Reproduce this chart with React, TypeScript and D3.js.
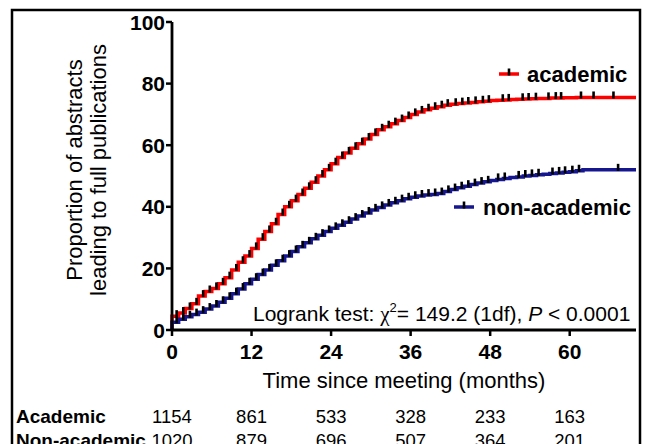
import React from "react";
import * as d3 from "d3";

// ---- data ----
const months = [0,1,2,3,4,5,6,7,8,9,10,11,12,13,14,15,16,17,18,19,20,21,22,23,24,25,26,27,28,29,30,31,32,33,34,35,36,37,38,39,40,41,42,43,44,45,46,47,48,49,50,51,52,53,54,55,56,57,58,59,60,61,62,70];
const academic = [4.5,5.5,7,8.5,11,12.5,13.5,15,17,19.5,22,24,26.5,29.5,32,34.5,37.5,40,42,44,46,48,50,52,54,56,57.5,59,60.5,62,63.5,65,66,67,68,69,70,70.8,71.5,72,72.5,73,73.3,73.5,73.7,73.9,74.1,74.3,74.5,74.6,74.7,74.8,74.9,75,75.1,75.2,75.2,75.3,75.3,75.4,75.4,75.5,75.5,75.5];
const nonAcademic = [2.5,3.5,4.3,5,5.8,6.8,7.8,9,10.3,11.8,13.3,15,16.5,18,19.5,21,22.5,24,25.5,27,28.3,29.6,30.8,32,33,34,35,36,37,38,39,39.8,40.6,41.3,42,42.6,43.1,43.5,43.8,44,44.3,45,45.6,46.2,46.7,47.2,47.7,48.1,48.5,48.9,49.2,49.5,49.7,50,50.2,50.4,50.6,50.8,51,51.2,51.4,51.7,52,52];
const censorAcademic = [0.7,1.7,2.7,3.7,4.7,5.7,6.7,7.7,8.7,9.7,10.7,11.7,12.7,13.7,14.7,15.7,16.7,17.7,18.7,19.7,20.7,21.7,22.7,23.7,24.7,25.7,26.7,27.7,28.7,29.7,30.7,31.7,32.7,33.7,34.7,35.7,36.7,37.7,38.7,39.7,40.7,41.6,42.8,43.8,44.7,45.8,46.9,47.8,49.9,50.8,52.9,53.8,54.9,56.8,57.9,58.7,61.7,63.6,66.6];
const censorNonAcademic = [0.7,1.7,2.7,3.7,4.7,5.7,6.7,7.7,8.7,9.7,10.7,11.7,12.7,13.7,14.7,15.7,16.7,17.7,18.7,19.7,20.7,21.7,22.7,23.7,24.7,25.7,26.7,27.7,28.7,29.7,30.7,31.7,32.7,33.7,34.7,35.7,36.7,37.7,38.7,39.7,40.7,41.7,42.7,43.7,44.7,45.7,46.7,47.7,49.2,50.2,52.3,53.3,54.3,55.3,57.4,58.4,59.3,60.4,61.4,67.3];
const xTicks = [0, 12, 24, 36, 48, 60];
const yTicks = [0, 20, 40, 60, 80, 100];
const atRiskAcademic = [1154, 861, 533, 328, 233, 163];
const atRiskNonAcademic = [1020, 879, 696, 507, 364, 201];

const RED = "#ff0000";
const BLUE = "#16168e";
const FONT = "Arial, 'Liberation Sans', Helvetica, sans-serif";

function stepValue(t: number, vals: number[]) {
  let v = vals[0];
  for (let i = 0; i < months.length; i++) {
    if (months[i] <= t) v = vals[i];
  }
  return v;
}

export default function App() {
  const x = d3.scaleLinear().domain([0, 70]).range([172, 636]);
  const y = d3.scaleLinear().domain([0, 100]).range([330, 22]);

  const line = d3
    .line<[number, number]>()
    .x((d) => x(d[0]))
    .y((d) => y(d[1]))
    .curve(d3.curveStepAfter);

  const series = [
    { vals: academic, censor: censorAcademic, color: RED },
    { vals: nonAcademic, censor: censorNonAcademic, color: BLUE },
  ];

  const x0 = x(0);
  const y0 = y(0);

  return (
    <div style={{ position: "fixed", left: 0, top: 0 }}>
      <svg width={648} height={444} style={{ display: "block", background: "#fff" }}>
        <rect x={12} y={10} width={628} height={460} fill="#fff" stroke="#000" strokeWidth={2.5} />

        {/* curves */}
        {series.map((s, si) => {
          const pts: [number, number][] = [[0, 0], ...months.map((m, i) => [m, s.vals[i]] as [number, number])];
          return (
            <g key={si}>
              <path d={line(pts) || ""} fill="none" stroke={s.color} strokeWidth={3.5} />
              {s.censor.map((c, ci) => {
                const cy = y(stepValue(c, s.vals));
                return (
                  <line key={ci} x1={x(c)} x2={x(c)} y1={cy - 6} y2={cy + 1} stroke="#000" strokeWidth={2.6} />
                );
              })}
            </g>
          );
        })}

        {/* y axis */}
        <line x1={x0} x2={x0} y1={y(100)} y2={y0 + 1} stroke="#000" strokeWidth={2.8} />
        {yTicks.map((t) => (
          <g key={t}>
            <line x1={x0 - 6} x2={x0} y1={y(t)} y2={y(t)} stroke="#000" strokeWidth={2.5} />
            <text x={x0 - 7} y={y(t)} dy="0.36em" textAnchor="end" fontFamily={FONT} fontWeight="bold" fontSize={21}>
              {t}
            </text>
          </g>
        ))}

        {/* x axis */}
        <line x1={x0 - 1} x2={x(70)} y1={y0} y2={y0} stroke="#000" strokeWidth={2.8} />
        {xTicks.map((t) => (
          <g key={t}>
            <line x1={x(t)} x2={x(t)} y1={y0} y2={y0 + 6} stroke="#000" strokeWidth={2.5} />
            <text x={x(t)} y={359} textAnchor="middle" fontFamily={FONT} fontWeight="bold" fontSize={21}>
              {t}
            </text>
          </g>
        ))}

        {/* axis titles */}
        <text x={404} y={388} textAnchor="middle" fontFamily={FONT} fontSize={22}>
          Time since meeting (months)
        </text>
        <text transform="translate(82,170) rotate(-90)" textAnchor="middle" fontFamily={FONT} fontSize={22}>
          Proportion of abstracts
        </text>
        <text transform="translate(106,170) rotate(-90)" textAnchor="middle" fontFamily={FONT} fontSize={22}>
          leading to full publications
        </text>

        {/* legend */}
        <line x1={499} x2={519} y1={74} y2={74} stroke={RED} strokeWidth={3.5} />
        <line x1={509} x2={509} y1={68.5} y2={75.5} stroke="#000" strokeWidth={2.6} />
        <text x={527} y={82} fontFamily={FONT} fontWeight="bold" fontSize={22}>
          academic
        </text>
        <line x1={454} x2={474} y1={207} y2={207} stroke={BLUE} strokeWidth={3.5} />
        <line x1={464} x2={464} y1={201.5} y2={208.5} stroke="#000" strokeWidth={2.6} />
        <text x={483} y={215} fontFamily={FONT} fontWeight="bold" fontSize={22}>
          non-academic
        </text>

        {/* logrank */}
        <text x={253} y={321} fontFamily={FONT} fontSize={21}>
          Logrank test:{" "}
          <tspan fontFamily="'Liberation Serif', 'DejaVu Serif', serif">χ</tspan>
          <tspan fontSize={13} dy={-9}>2</tspan>
          <tspan dy={9}>= 149.2 (1df), </tspan>
          <tspan fontStyle="italic">P</tspan>
          <tspan> &lt; 0.0001</tspan>
        </text>

        {/* at-risk table */}
        <text x={16} y={423} fontFamily={FONT} fontWeight="bold" fontSize={19}>
          Academic
        </text>
        <text x={16} y={447} fontFamily={FONT} fontWeight="bold" fontSize={19}>
          Non-academic
        </text>
        {xTicks.map((t, i) => (
          <g key={t}>
            <text x={x(t)} y={423} textAnchor="middle" fontFamily={FONT} fontSize={18.5}>
              {atRiskAcademic[i]}
            </text>
            <text x={x(t)} y={447} textAnchor="middle" fontFamily={FONT} fontSize={18.5}>
              {atRiskNonAcademic[i]}
            </text>
          </g>
        ))}
      </svg>
    </div>
  );
}
